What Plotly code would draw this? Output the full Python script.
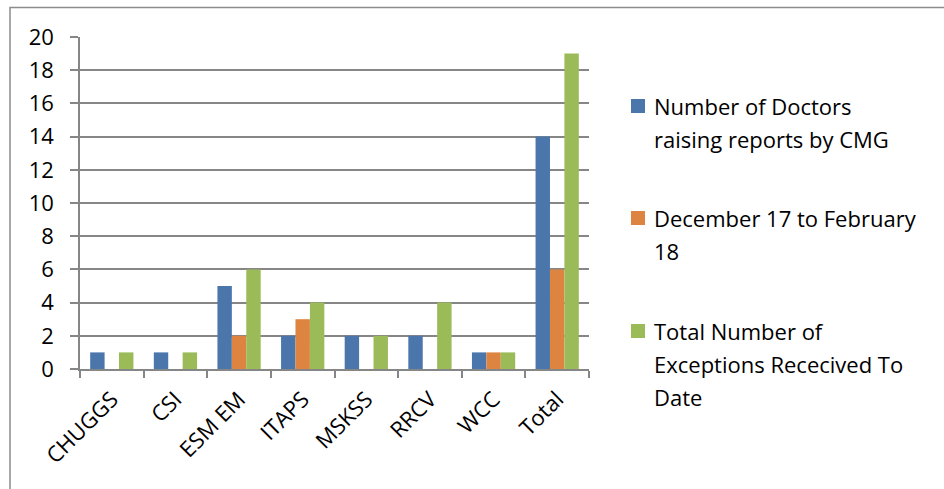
import plotly.graph_objects as go

# Data
categories = ["CHUGGS", "CSI", "ESM EM", "ITAPS", "MSKSS", "RRCV", "WCC", "Total"]
doctors_by_cmg = [1, 1, 5, 2, 2, 2, 1, 14]
dec17_to_feb18 = [0, 0, 2, 3, 0, 0, 1, 6]
total_exceptions = [1, 1, 6, 4, 2, 4, 1, 19]

series_names = [
    "Number of Doctors raising reports by CMG",
    "December 17 to February 18",
    "Total Number of Exceptions Rececived To Date",
]
legend_lines = [
    ["Number of Doctors", "raising reports by CMG"],
    ["December 17 to February", "18"],
    ["Total Number of", "Exceptions Rececived To", "Date"],
]
y_ticks = list(range(0, 21, 2))

colors = ["#4A76AC", "#DE8441", "#9BBB59"]
axis_grey = "#868686"
FONT = "Open Sans"
FSIZE = 22

W, H = 944, 489
L, R, T, B = 80, 355, 37, 120
pw, ph = W - L - R, H - T - B


def px_x(x):
    return (x - L) / pw


def px_y(y):
    return (H - B - y) / ph


fig = go.Figure()
for name, vals, col in zip(series_names, [doctors_by_cmg, dec17_to_feb18, total_exceptions], colors):
    fig.add_trace(go.Bar(x=categories, y=vals, name=name, marker=dict(color=col, line=dict(width=0)),
                         showlegend=False))

# Chart frame
fig.add_shape(type="rect", xref="paper", yref="paper",
              x0=px_x(10), x1=px_x(W + 20), y0=px_y(H + 20), y1=px_y(7.5),
              line=dict(color="#8c8c8c", width=1.5), fillcolor="rgba(0,0,0,0)", layer="below")

# Legend drawn as square swatches and wrapped text lines
legend_rows = [[106, 139], [218, 251], [331, 364, 397]]
for col, lines, rows in zip(colors, legend_lines, legend_rows):
    cy = rows[0]
    fig.add_shape(type="rect", xref="paper", yref="paper",
                  x0=px_x(631), x1=px_x(645), y0=px_y(cy + 7), y1=px_y(cy - 7),
                  fillcolor=col, line=dict(width=0))
    for text, ry in zip(lines, rows):
        fig.add_annotation(x=px_x(652), y=px_y(ry), xref="paper", yref="paper",
                           text=text, showarrow=False, xanchor="left", yanchor="middle",
                           font=dict(family=FONT, size=FSIZE, color="#000000"))

fig.update_layout(
    width=W, height=H,
    margin=dict(l=L, r=R, t=T, b=B),
    paper_bgcolor="white", plot_bgcolor="white",
    barmode="group", bargap=0.32, bargroupgap=0,
    font=dict(family=FONT, size=FSIZE, color="#000000"),
)
fig.update_xaxes(
    type="category", tickangle=-45, tickson="boundaries",
    ticks="outside", ticklen=7, tickwidth=1.5, tickcolor=axis_grey,
    showline=True, linecolor=axis_grey, linewidth=1.5,
    showgrid=False, ticklabelstandoff=7, tickfont=dict(family=FONT, size=FSIZE),
)
fig.update_yaxes(
    range=[0, 20], tickvals=y_ticks, ticks="outside", ticklen=8, tickwidth=1.5,
    tickcolor=axis_grey, showline=True, linecolor=axis_grey, linewidth=1.5,
    showgrid=True, gridcolor=axis_grey, gridwidth=1.5, zeroline=False,
    ticklabelstandoff=12, tickfont=dict(family=FONT, size=FSIZE),
)

fig.write_html("out.html")
